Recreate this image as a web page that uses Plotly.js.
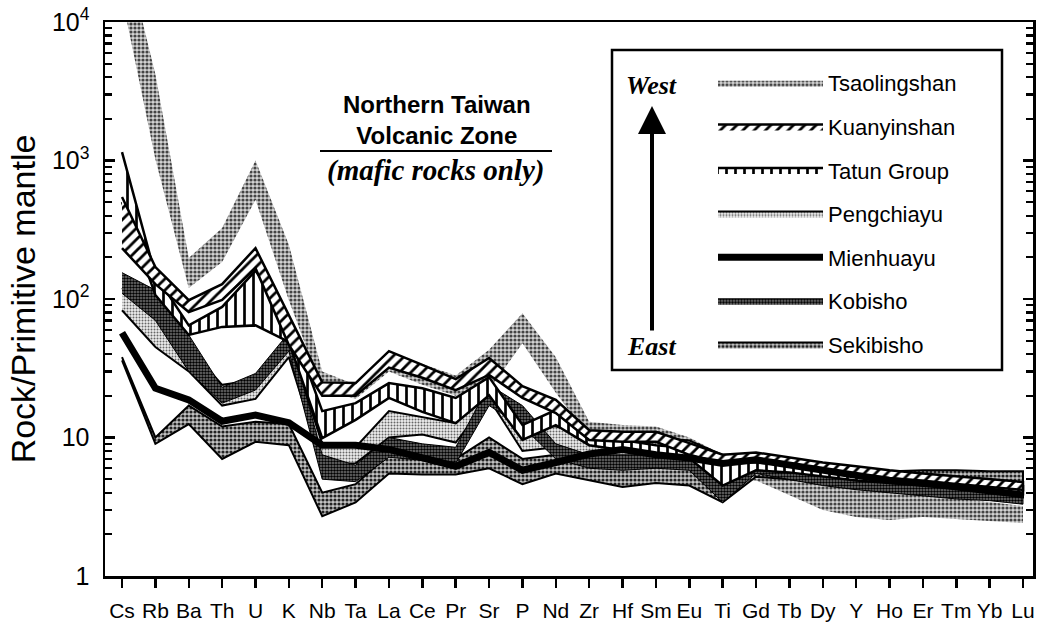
<!DOCTYPE html>
<html><head><meta charset="utf-8">
<script src="https://cdn.plot.ly/plotly-3.0.1.min.js"></script>
<style>html,body{margin:0;padding:0;background:#fff;}#chart{width:1038px;height:627px;}</style>
</head><body><div id="chart"></div>
<script>
const elements = ['Cs','Rb','Ba','Th','U','K','Nb','Ta','La','Ce','Pr','Sr','P','Nd','Zr','Hf','Sm','Eu','Ti','Gd','Tb','Dy','Y','Ho','Er','Tm','Yb','Lu'];

const tsaolingshanHi = [40000, 4200, 198, 325, 1000, 246, 30, 24, 42, 34, 28, 43, 79, 38, 13, 12.3, 12, 10, 7.5, 6.3, 5.6, 4.9, 4.5, 4.18, 3.84, 3.66, 3.42, 3.2];
const tsaolingshanLo = [15000, 1020, 120, 185, 520, 98, 22, 19, 30, 24, 20, 22, 48, 21, 10, 9, 8.8, 7.5, 5.0, 4.9, 3.84, 3.0, 2.67, 2.54, 2.67, 2.58, 2.5, 2.41];

const kuanyinshanHi = [545, 170, 98, 128, 233, 76, 25, 24.7, 42, 33.4, 26.4, 37.5, 23.5, 18.7, 11.3, 11, 11, 9.1, 7.5, 7.8, 7.2, 6.6, 6.2, 5.8, 5.5, 5.25, 5.0, 4.77];
const kuanyinshanLo = [233, 128, 80.5, 98.5, 167, 46.5, 20, 20, 32, 27, 22, 28.3, 19.3, 15, 9.6, 9.3, 9.3, 7.5, 6.5, 6.9, 6.3, 5.8, 5.45, 5.1, 4.85, 4.6, 4.4, 4.18];

const tatunHi = [1150, 149, 64.5, 87.6, 160, 72.6, 15.5, 17.7, 24.7, 22.7, 19.3, 27.3, 12.3, 15.8, 11, 9.6, 8.8, 8.4, 6.6, 6.6, 6.3, 6.0, 5.6, 5.36, 5.1, 4.93, 4.7, 4.46];
const tatunLo = [500, 107, 55, 62.9, 64.5, 49, 9.9, 13.4, 19.3, 15.3, 12.7, 20.2, 9.6, 12.3, 8.8, 8.1, 7.5, 7.1, 4.5, 5.8, 5.6, 5.25, 4.9, 4.7, 4.5, 4.3, 4.1, 3.9];

const pengchiayuHi = [120, 72, 45, 24, 26, 50, 9, 8.5, 15.5, 14, 12.7, 26, 13, 12, 10.5, 10, 10, 9.5, 7.5, 7.5, 7, 6.3, 5.8, 5.5, 5.3, 5.1, 4.9, 4.7];
const pengchiayuLo = [83, 45, 30, 17, 19, 38, 6.5, 6.5, 10, 10.5, 9.2, 19, 8, 8.5, 7.5, 7.2, 7.5, 7.2, 5.5, 6, 5.5, 5, 4.5, 4.4, 4.2, 4.0, 3.9, 3.7];

const mienhuayu = [57, 22.7, 18.7, 13.1, 14.5, 12.8, 8.8, 8.8, 8.2, 7.2, 6.2, 7.8, 5.8, 6.6, 7.6, 8.2, 7.5, 7.1, 6.5, 6.9, 6.3, 5.8, 5.4, 4.9, 4.7, 4.4, 4.0, 3.85];

const kobishoHi = [155, 116, 55, 23, 29, 57, 7.5, 6.3, 10, 9, 8.5, 24, 17, 9, 7.5, 7.5, 7.5, 7, 4.6, 7, 6.3, 5.7, 5.2, 5.0, 4.7, 4.5, 4.3, 4.1];
const kobishoLo = [110, 70, 30, 17.7, 22, 42, 5.0, 4.8, 7.2, 6.8, 6.5, 17, 12, 7, 6, 5.8, 6, 5.8, 3.4, 5.5, 5, 4.5, 4.2, 4.0, 3.8, 3.6, 3.5, 3.3];

const sekibishoHi = [38, 10, 17, 12, 13, 12.5, 4.0, 4.6, 7.5, 7.3, 7.0, 10, 7, 7.5, 7.0, 6.5, 6.5, 6.3, 5.2, 6.5, 6.1, 5.8, 5.6, 5.7, 5.8, 5.8, 5.7, 5.7];
const sekibishoLo = [36, 9, 12.5, 7, 9.3, 8.8, 2.7, 3.4, 5.5, 5.4, 5.4, 6, 4.6, 5.5, 4.9, 4.4, 4.7, 4.5, 3.4, 5.2, 5.0, 4.7, 4.5, 4.4, 4.3, 4.2, 4.1, 4.0];

const FONT = 'Liberation Sans, Arial, Helvetica, sans-serif';
const SERIF = 'Liberation Serif, Times New Roman, serif';

function band(name, hi, lo, rank, lineW, pattern) {
  return {
    type: 'scatter', mode: 'lines', name: name,
    legendgroup: name, legendrank: rank,
    x: elements.concat(elements.slice().reverse()),
    y: hi.concat(lo.slice().reverse()),
    fill: 'toself',
    fillcolor: pattern.bgcolor,
    fillpattern: pattern,
    line: {color: lineW > 0 ? '#000' : 'rgba(0,0,0,0)', width: lineW > 0 ? lineW : 0.1},
    hoverinfo: 'skip'
  };
}

const traces = [
  band('Tsaolingshan', tsaolingshanHi, tsaolingshanLo, 1, 0, {shape: '.', fgcolor: '#444', bgcolor: '#d4d4d4', size: 4, solidity: 0.5}),
  band('Sekibisho', sekibishoHi, sekibishoLo, 7, 2, {shape: '.', fgcolor: '#222', bgcolor: '#c4c4c4', size: 4, solidity: 0.5}),
  band('Pengchiayu', pengchiayuHi, pengchiayuLo, 4, 2, {shape: '.', fgcolor: '#666', bgcolor: '#eeeeee', size: 3, solidity: 0.35}),
  band('Kobisho', kobishoHi, kobishoLo, 6, 1, {shape: '.', fgcolor: '#000', bgcolor: '#777', size: 3, solidity: 0.55}),
  band('Tatun Group', tatunHi, tatunLo, 3, 2.5, {shape: '|', fgcolor: '#000', bgcolor: '#fff', size: 9, solidity: 0.3}),
  band('Kuanyinshan', kuanyinshanHi, kuanyinshanLo, 2, 2.5, {shape: '/', fgcolor: '#000', bgcolor: '#fff', size: 8, solidity: 0.35}),
  {
    type: 'scatter', mode: 'lines', name: 'Mienhuayu', legendgroup: 'Mienhuayu', legendrank: 5,
    x: elements, y: mienhuayu,
    line: {color: '#000', width: 7}, hoverinfo: 'skip'
  }
];

// paper coordinate helpers (plot area 105..1033 x, 22..576 y)
const px = v => (v - 105) / 928;
const py = v => (576 - v) / 554;

const minorVals = [];
[1, 10, 100, 1000].forEach(d => { for (let k = 2; k <= 9; k++) minorVals.push(d * k); });

const txt = (x, y, text, family, size) => ({
  xref: 'paper', yref: 'paper', x: px(x), y: py(y), xanchor: 'center', yanchor: 'middle',
  text: text, showarrow: false, font: {family: family, size: size, color: '#000'}
});

const layout = {
  width: 1038, height: 627,
  margin: {l: 105, r: 5, t: 22, b: 51},
  paper_bgcolor: '#fff', plot_bgcolor: '#fff',
  font: {family: FONT, color: '#000'},
  showlegend: true,
  legend: {
    x: px(713), y: py(62), xanchor: 'left', yanchor: 'top',
    bgcolor: 'rgba(0,0,0,0)', borderwidth: 0,
    font: {family: FONT, size: 22, color: '#000'},
    itemwidth: 105, traceorder: 'grouped', tracegroupgap: 12,
    itemclick: false, itemdoubleclick: false
  },
  xaxis: {
    type: 'category', categoryorder: 'array', categoryarray: elements,
    range: [-0.51, 27.3],
    showline: true, linewidth: 2.5, linecolor: '#000', mirror: true,
    ticks: 'outside', ticklen: 9, tickwidth: 2.5, tickcolor: '#000',
    ticklabelstandoff: 5,
    tickfont: {family: FONT, size: 21, color: '#000'},
    showgrid: false, zeroline: false, fixedrange: true
  },
  yaxis: {
    type: 'log', range: [0, 4],
    showline: true, linewidth: 2.5, linecolor: '#000', mirror: 'ticks',
    ticks: 'inside', ticklen: 10, tickwidth: 2.5, tickcolor: '#000',
    tickmode: 'array', tickvals: [1, 10, 100, 1000, 10000],
    ticktext: ['1', '10', '10<sup>2</sup>', '10<sup>3</sup>', '10<sup>4</sup>'],
    tickfont: {family: FONT, size: 25, color: '#000'},
    ticklabelstandoff: 8,
    minor: {ticks: 'inside', ticklen: 7, tickwidth: 2.2, tickcolor: '#000', tickmode: 'array', tickvals: minorVals, showgrid: false},
    showgrid: false, zeroline: false, fixedrange: true,
    automargin: false,
    title: {text: 'Rock/Primitive mantle', font: {family: FONT, size: 34, color: '#000'}, standoff: 6}
  },
  shapes: [
    {type: 'rect', xref: 'paper', yref: 'paper', x0: px(612), x1: px(1002), y0: py(370), y1: py(50), line: {color: '#000', width: 2.5}, fillcolor: 'rgba(0,0,0,0)'},
    {type: 'line', xref: 'paper', yref: 'paper', x0: px(320), x1: px(552), y0: py(151), y1: py(151), line: {color: '#000', width: 2}}
  ],
  annotations: [
    txt(437, 120, '<b>Northern Taiwan<br>Volcanic Zone</b>', FONT, 24),
    txt(435, 170, '<b><i>(mafic rocks only)</i></b>', SERIF, 29),
    txt(651, 86, '<b><i>West</i></b>', SERIF, 26),
    txt(651, 346, '<b><i>East</i></b>', SERIF, 26),
    {xref: 'paper', yref: 'paper', x: px(652), y: py(106), text: '', showarrow: true, ax: 0, ay: 226, arrowhead: 2, arrowsize: 1.4, arrowwidth: 4, arrowcolor: '#000', standoff: 0, startstandoff: 0}
  ]
};

Plotly.newPlot('chart', traces, layout, {staticPlot: true, displayModeBar: false});
</script>
</body></html>
